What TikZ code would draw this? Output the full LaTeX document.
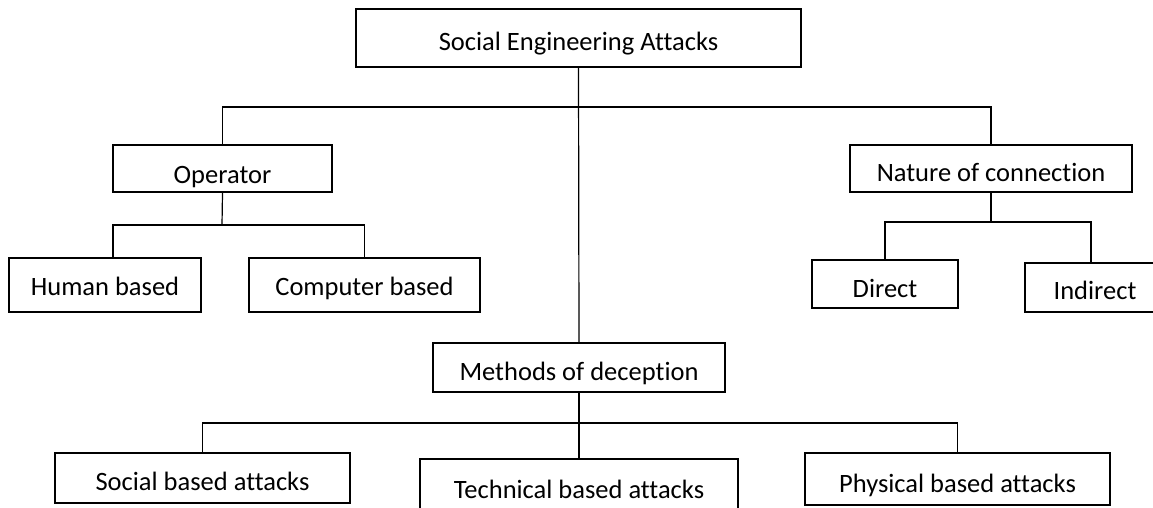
\documentclass[tikz,border=0pt]{standalone}
\usepackage{fontspec}
\setmainfont{Carlito}[Ligatures=NoCommon]
\usepackage{tikz}
\usetikzlibrary{positioning}

\tikzset{
  box/.style={draw, line width=2.4pt, inner sep=0pt, text depth=0pt,
    font=\fontsize{26.5}{30}\selectfont},
  link/.style={line width=1.2pt}
}

\begin{document}
\begin{tikzpicture}[x=1pt, y=-1pt]
    \useasboundingbox (0,0) rectangle (1153,508);

    % Boxes: name/x/y/width/height/text height/label
    \foreach \n/\x/\y/\w/\h/\b/\t in {
      top/578.5/38/445/58/25/Social Engineering Attacks,
      oper/222.5/168.5/219/47/29/Operator,
      hum/105/285/192/54/20/Human based,
      comp/364.5/285/231/54/20/Computer based,
      nat/991/168.5/282/47/25/Nature of connection,
      dir/885/284/146/48/26/Direct,
      ind/1095/287.5/140/49/23/Indirect,
      meth/579/367.5/292/49/25/Methods of deception,
      soc/202.5/478/295/50/24/Social based attacks,
      tech/579/486/318/54/24/Technical based attacks,
      phys/957.5/479/305/52/26/Physical based attacks} {
      \node[box, minimum width=\w pt, minimum height=\h pt, text height=\b pt] (\n) at (\x,\y) {\t};
    }

    % Bus points
    \coordinate (bus) at (579,107);
    \coordinate (opbus) at (222,225);
    \coordinate (natbus) at (991,222);
    \coordinate (methbus) at (579,423);

    % Draw trunk and branches
    \draw[link] (top.south) -- (meth.north);
    \draw[link] (oper.north) |- (bus) -| (nat.north);

    \draw[link] (oper.south) -- (opbus);
    \draw[link] ([xshift=8pt]hum.north) |- (opbus) -| (comp.north);

    \draw[link] (nat.south) -- (natbus);
    \draw[link] (dir.north) |- (natbus) -| ([xshift=-4pt]ind.north);

    \draw[link] (meth.south) -- (tech.north);
    \draw[link] (soc.north) |- (methbus) -| (phys.north);
\end{tikzpicture}
\end{document}
